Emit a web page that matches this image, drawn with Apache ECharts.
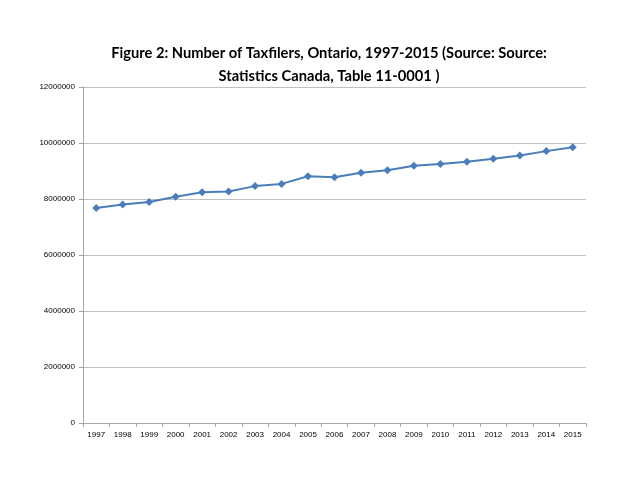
<!DOCTYPE html>
<html><head><meta charset="utf-8">
<script src="https://cdn.jsdelivr.net/npm/echarts@6/dist/echarts.min.js"></script>
<style>html,body{margin:0;padding:0;background:#fff}#c{width:640px;height:480px}</style>
</head><body><div id="c"></div>
<script>
const years = ['1997','1998','1999','2000','2001','2002','2003','2004','2005','2006','2007','2008','2009','2010','2011','2012','2013','2014','2015'];
const taxfilers = [7680000,7800000,7890000,8080000,8240000,8270000,8460000,8540000,8810000,8780000,8940000,9030000,9190000,9250000,9330000,9440000,9550000,9710000,9850000];
const titleLines = ['Figure 2: Number of Taxfilers, Ontario, 1997-2015 (Source: Source:', 'Statistics Canada, Table 11-0001 )'];

const chart = echarts.init(document.getElementById('c'));
chart.setOption({
  animation: false,
  title: {
    text: titleLines.join('\n'),
    left: 324, top: 37, textAlign: 'center',
    textStyle: {fontFamily: 'Lato', fontWeight: 'bold', fontSize: 14.7, lineHeight: 23, color: '#000'}
  },
  grid: {left: 83, right: 54, top: 87, bottom: 57},
  xAxis: {
    type: 'category', data: years, boundaryGap: true,
    axisLine: {lineStyle: {color: '#a6a6a6'}},
    axisTick: {show: true, length: 4, lineStyle: {color: '#a6a6a6'}},
    axisLabel: {color: '#000', fontSize: 8, fontFamily: 'Liberation Sans', margin: 8}
  },
  yAxis: {
    type: 'value', min: 0, max: 12000000, interval: 2000000,
    axisLine: {show: true, lineStyle: {color: '#a6a6a6'}},
    axisTick: {show: true, length: 4, lineStyle: {color: '#a6a6a6'}},
    splitLine: {lineStyle: {color: '#c0c0c0', width: 1}},
    axisLabel: {color: '#000', fontSize: 8, fontFamily: 'Liberation Sans', margin: 8, formatter: v => String(v)}
  },
  series: [{
    type: 'line', data: taxfilers,
    symbol: 'diamond', symbolSize: 8,
    lineStyle: {color: '#4a7ebb', width: 2},
    itemStyle: {color: '#4a7ebb'}
  }]
});
</script></body></html>
